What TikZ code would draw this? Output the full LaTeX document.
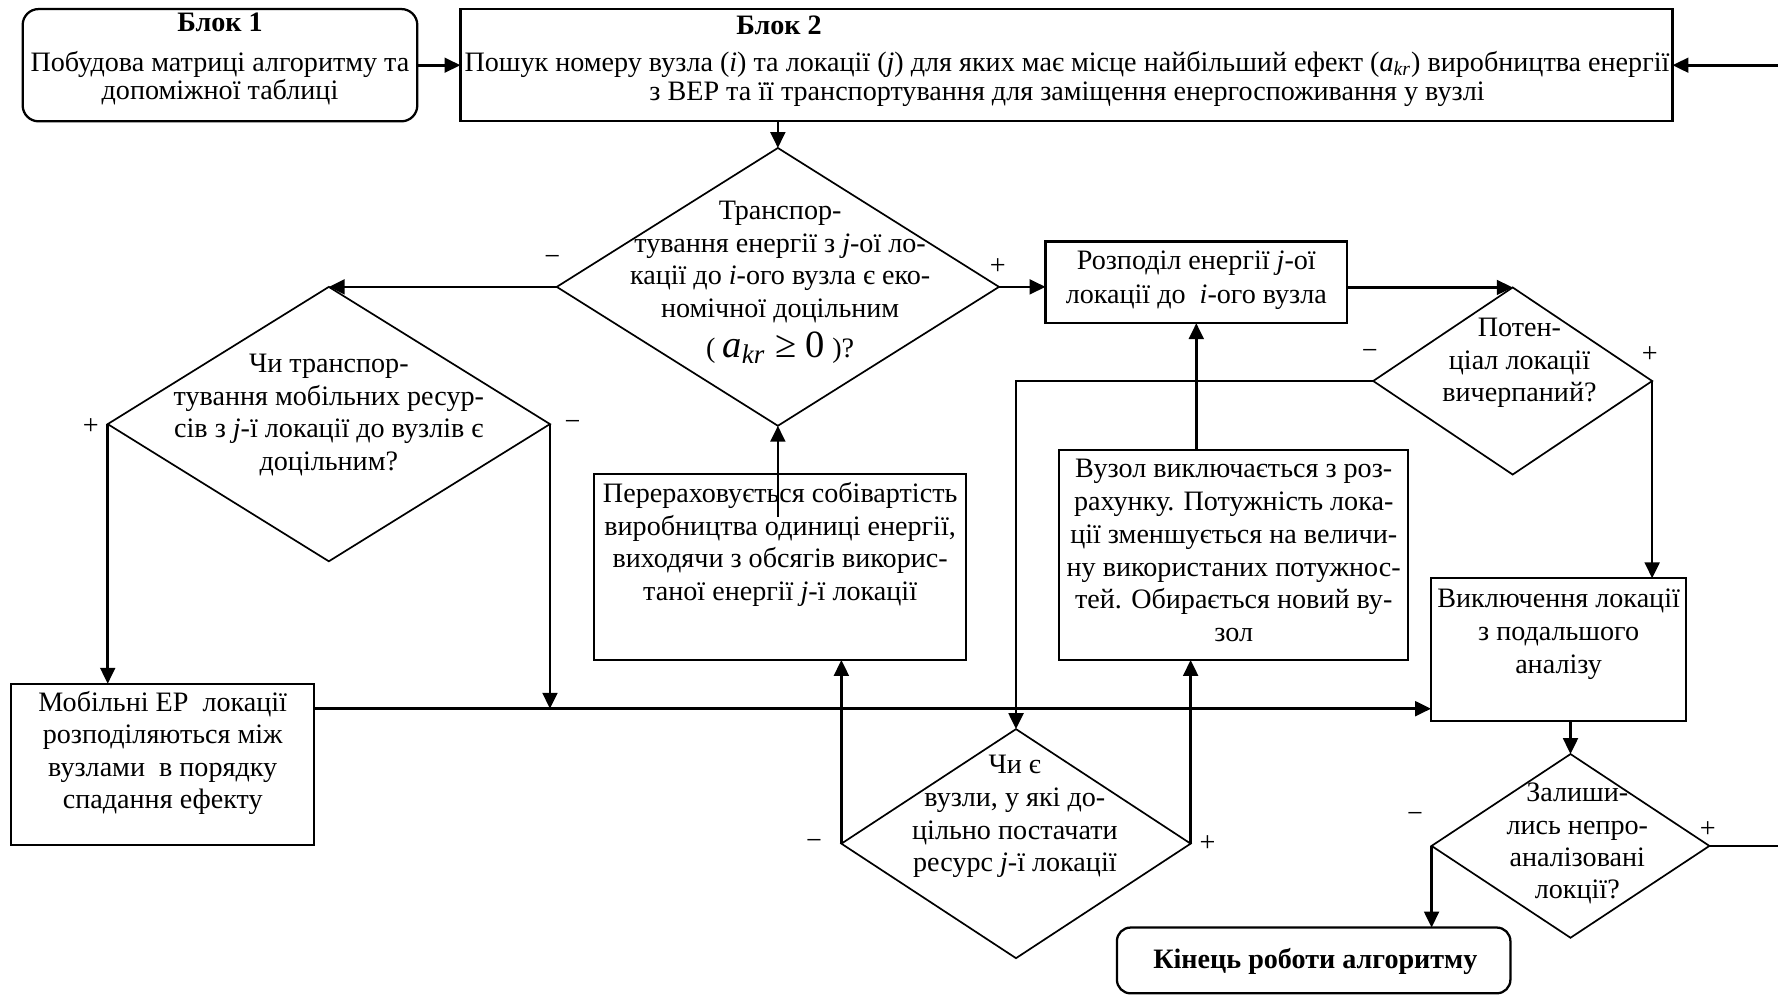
\documentclass[tikz,border=0pt]{standalone}
\usepackage{fontspec}
\setmainfont{Liberation Serif}
\usetikzlibrary{shapes.geometric,arrows.meta}
\begin{document}
\begin{tikzpicture}[x=0.5pt,y=-0.5pt,
  box/.style={draw,line width=1pt,inner sep=0pt,outer sep=0pt},
  rbox/.style={box,rounded corners=7pt},
  dia/.style={diamond,draw,line width=0.75pt,inner sep=0pt,outer sep=0pt},
  txt/.style={align=center,inner sep=0pt,font=\fontsize{12.4}{14.3}\selectfont},
  sign/.style={inner sep=0pt,font=\fontsize{12.4}{14}\selectfont},
  conn/.style={line width=1.15pt,-{Triangle[length=7pt,width=6.5pt]}}]
\clip (0,0) rectangle (1568,877);
% boxes
\node[rbox,minimum width=174pt,minimum height=49.5pt] (B1) at (194,57.5) {};
\node[txt,font=\fontsize{12.4}{12.5}\selectfont] (B1t) at (194,52) {\textbf{Блок 1}\\[5pt]Побудова матриці алгоритму та\\допоміжної таблиці};
\node[box,minimum width=534.5pt,minimum height=49.5pt] (B2) at (940.5,57.5) {};
\node[txt] (B2h) at (687,22) {\textbf{Блок 2}};
\node[txt,font=\fontsize{12.4}{12.5}\selectfont] (B2t) at (941,69.5) {Пошук номеру вузла (\textit{i}) та локації (\textit{j}) для яких має місце найбільший ефект (\textit{a}\textsubscript{\textit{kr}}) виробництва енергії\\з ВЕР та її транспортування для заміщення енергоспоживання у вузлі};
\node[box,minimum width=133pt,minimum height=36pt] (R) at (1055,249) {};
\node[txt,font=\fontsize{12.4}{15}\selectfont] (Rt) at (1055,247) {Розподіл енергії \textit{j}-ої\\локації до\ \ \textit{i}-ого вузла};
\node[box,minimum width=164pt,minimum height=82pt] (P) at (688,500) {};
\node[txt] (Pt) at (688,480) {Перераховується собівартість\\виробництва одиниці енергії,\\виходячи з обсягів викорис-\\таної енергії \textit{j}-ї локації};
\node[box,minimum width=154pt,minimum height=92.5pt] (Vz) at (1088,489.5) {};
\node[txt,font=\fontsize{12.4}{14.5}\selectfont] (Vzt) at (1088,485.5) {Вузол виключається з роз-\\рахунку. Потужність лока-\\ції зменшується на величи-\\ну використаних потужнос-\\тей. Обирається новий ву-\\зол};
\node[box,minimum width=133.5pt,minimum height=71pt] (M) at (143.5,674) {};
\node[txt] (Mt) at (143.5,664) {Мобільні ЕР\ \ локації\\розподіляються між\\вузлами\ \ в порядку\\спадання ефекту};
\node[box,minimum width=112.5pt,minimum height=63pt] (V) at (1374.5,573) {};
\node[txt,font=\fontsize{12.4}{14.5}\selectfont] (Vt) at (1374.5,559) {Виключення локації\\з подальшого\\аналізу};
\node[rbox,rounded corners=6pt,minimum width=173.5pt,minimum height=29pt] (E) at (1158.5,847) {};
\node[txt] (Et) at (1160,848) {\textbf{Кінець роботи алгоритму}};
% diamonds
\node[dia,minimum width=195pt,minimum height=122.5pt] (D1) at (686,253) {};
\node[txt] (D1t) at (688,231) {Транспор-\\тування енергії з \textit{j}-ої ло-\\кації до \textit{i}-ого вузла є еко-\\номічної доцільним};
\node[txt] (D1f) at (688,307) {( {\fontsize{17}{17}\selectfont\textit{a}\textsubscript{\textit{kr}} ≥ 0} )?};
\node[dia,minimum width=195pt,minimum height=121pt] (D2) at (290,374) {};
\node[txt] (D2t) at (290,366) {Чи транспор-\\тування мобільних ресур-\\сів з \textit{j}-ї локації до вузлів є\\доцільним?};
\node[dia,minimum width=154pt,minimum height=101pt] (D3) at (896,744) {};
\node[txt,font=\fontsize{12.4}{14.5}\selectfont] (D3t) at (895,720) {Чи є\\вузли, у які до-\\цільно постачати\\ресурс \textit{j}-ї локації};
\node[dia,minimum width=123pt,minimum height=82.5pt] (D4) at (1334,336) {};
\node[txt] (D4t) at (1340,320) {Потен-\\ціал локації\\вичерпаний?};
\node[dia,minimum width=122.5pt,minimum height=81pt] (D5) at (1385,746) {};
\node[txt] (D5t) at (1391,744) {Залиши-\\лись непро-\\аналізовані\\локції?};
% signs
\node[sign] (s1) at (487,230) {−};
\node[sign] (s2) at (880,235) {+};
\node[sign] (s3) at (80,376) {+};
\node[sign] (s4) at (505,375) {−};
\node[sign] (s5) at (718,745) {−};
\node[sign] (s6) at (1065,744) {+};
\node[sign] (s7) at (1208,313) {−};
\node[sign] (s8) at (1455,313) {+};
\node[sign] (s9) at (1248,721) {−};
\node[sign] (s10) at (1506,732) {+};
% connectors
\coordinate (J) at (485,625);
\coordinate (Pin) at (686,456);
\coordinate (RT) at (1576,57);
\draw[conn] (B1.east) -- (B2.west);
\draw[conn] (D1.north |- B2.south) -- (D1.north);
\draw[conn] (D1.east) -- (D1.east -| R.west);
\draw[conn] (D1.west) -- (D2.north);
\draw[conn] (D2.west) -- (D2.west |- M.north);
\draw[conn] (D2.east) -- (J);
\draw[conn] (M.east |- J) -- (J -| V.west);
\draw[conn] (Pin) -- (D1.south);
\draw[conn] (R.east |- D4.north) -- (D4.north);
\draw[conn] (D4.west) -- (D4.west -| D3.north) -- (D3.north);
\draw[conn] (R.south |- Vz.north) -- (R.south);
\draw[conn] (D4.east) -- (D4.east |- V.north);
\draw[conn] (D3.west) -- (D3.west |- P.south);
\draw[conn] (D3.east) -- (D3.east |- Vz.south);
\draw[conn] (V.south -| D5.north) -- (D5.north);
\draw[conn] (D5.west) -- (D5.west |- E.north);
\draw[conn] (D5.east) -- (D5.east -| RT) -- (RT |- B2.east) -- (B2.east);
\end{tikzpicture}
\end{document}
